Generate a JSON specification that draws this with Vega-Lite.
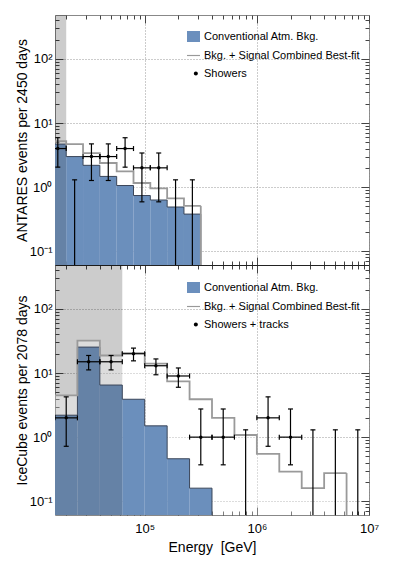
{
  "$schema": "https://vega.github.io/schema/vega-lite/v6.json",
  "padding": {"left": 14, "top": 13, "right": 0, "bottom": 0},
  "spacing": 0,
  "bounds": "flush",
  "config": {
    "font": "Liberation Sans",
    "view": {"stroke": "#888888", "strokeWidth": 1},
    "scale": {"continuousPadding": 0},
    "axis": {"labelFont": "Liberation Sans", "titleFont": "Liberation Sans", "labelColor": "black", "titleColor": "black", "titleFontWeight": "normal", "labelOverlap": false, "labelFlush": false, "tickColor": "#444444"},
    "legend": {"labelFont": "Liberation Sans", "labelFontSize": 11, "labelColor": "black", "padding": 0, "symbolSize": 169, "labelOffset": 3, "rowPadding": 5}
  },
  "resolve": {"scale": {"color": "independent", "shape": "independent"}, "legend": {"color": "independent", "shape": "independent"}},
  "vconcat": [
    {
      "width": 314,
      "height": 250,
      "data": {"values": [
        {"lo": 14125, "hi": 19953, "c": 16788, "bkg": 4.7, "comb": 5.2, "n": 4, "elo": 2.05, "ehi": 5.9},
        {"lo": 19953, "hi": 28184, "c": 23714, "bkg": 3.0, "comb": 4.7, "n": 0, "elo": null, "ehi": 1.3},
        {"lo": 28184, "hi": 39811, "c": 33497, "bkg": 2.19, "comb": 3.4, "n": 3, "elo": 1.27, "ehi": 4.73},
        {"lo": 39811, "hi": 56234, "c": 47315, "bkg": 1.47, "comb": 2.38, "n": 3, "elo": 1.27, "ehi": 4.73},
        {"lo": 56234, "hi": 79433, "c": 66834, "bkg": 1.06, "comb": 1.76, "n": 4, "elo": 2.05, "ehi": 5.9},
        {"lo": 79433, "hi": 112202, "c": 94406, "bkg": 0.74, "comb": 1.16, "n": 2, "elo": 0.59, "ehi": 3.41},
        {"lo": 112202, "hi": 158489, "c": 133352, "bkg": 0.63, "comb": 0.96, "n": 2, "elo": 0.59, "ehi": 3.41},
        {"lo": 158489, "hi": 223872, "c": 188365, "bkg": 0.49, "comb": 0.67, "n": 0, "elo": null, "ehi": 1.3},
        {"lo": 223872, "hi": 316228, "c": 266073, "bkg": 0.38, "comb": 0.51, "n": 0, "elo": null, "ehi": 1.3}
      ]},
      "resolve": {"axis": {"x": "independent", "y": "independent"}},
      "layer": [
        {
          "transform": [{"filter": "isValid(datum.bkg)"}],
          "mark": {"type": "rect", "fill": "#295d9f", "clip": true},
          "encoding": {
            "x": {"field": "lo", "type": "quantitative", "scale": {"type": "log", "domain": [15849, 10000000], "padding": 0},
              "axis": {"orient": "bottom", "values": [20000,30000,40000,50000,60000,70000,80000,90000,100000,200000,300000,400000,500000,600000,700000,800000,900000,1000000,2000000,3000000,4000000,5000000,6000000,7000000,8000000,9000000,10000000],
                "labels": false, "title": null, "domain": true, "domainColor": "#222222", "domainWidth": 1.2,
                "tickSize": {"condition": {"test": "datum.value==100000||datum.value==1000000||datum.value==10000000", "value": -8}, "value": -4},
                "grid": true, "gridDash": [1, 2], "gridColor": "#999999",
                "gridOpacity": {"condition": {"test": "datum.value==100000||datum.value==1000000||datum.value==10000000", "value": 1}, "value": 0}}},
            "x2": {"field": "hi"},
            "y": {"field": "bkg", "type": "quantitative", "scale": {"type": "log", "domain": [0.061, 485], "padding": 0},
              "axis": {"orient": "left", "values": [0.07,0.08,0.09,0.1,0.2,0.3,0.4,0.5,0.6,0.7,0.8,0.9,1,2,3,4,5,6,7,8,9,10,20,30,40,50,60,70,80,90,100,200,300,400],
                "labelExpr": "datum.value==100?'10²':datum.value==10?'10¹':datum.value==1?'10⁰':datum.value==0.1?'10⁻¹':''",
                "labelFontSize": 13, "labelPadding": 11, "domain": false,
                "title": "ANTARES events per 2450 days", "titleFontSize": 14, "titlePadding": 0,
                "tickSize": {"condition": {"test": "datum.value==0.1||datum.value==1||datum.value==10||datum.value==100", "value": -8}, "value": -4},
                "grid": true, "gridDash": [1, 2], "gridColor": "#999999",
                "gridOpacity": {"condition": {"test": "datum.value==0.1||datum.value==1||datum.value==10||datum.value==100", "value": 1}, "value": 0}}},
            "y2": {"datum": 0.001}
          }
        },
        {
          "data": {"values": [{"lo": 10000, "hi": 19953}]},
          "mark": {"type": "rect", "fill": "black", "opacity": 0.2, "clip": true},
          "encoding": {
            "x": {"field": "lo", "type": "quantitative", "scale": {"type": "log", "domain": [15849, 10000000], "padding": 0},
              "axis": {"orient": "top", "values": [20000,30000,40000,50000,60000,70000,80000,90000,100000,200000,300000,400000,500000,600000,700000,800000,900000,1000000,2000000,3000000,4000000,5000000,6000000,7000000,8000000,9000000,10000000],
                "labels": false, "title": null, "domain": false, "grid": false,
                "tickSize": {"condition": {"test": "datum.value==100000||datum.value==1000000||datum.value==10000000", "value": -8}, "value": -4}}},
            "x2": {"field": "hi"}
          }
        },
        {
          "transform": [{"filter": "isValid(datum.comb)"}],
          "mark": {"type": "rect", "fill": "white", "opacity": 0.31, "clip": true},
          "encoding": {
            "x": {"field": "lo", "type": "quantitative", "scale": {"type": "log", "domain": [15849, 10000000], "padding": 0}, "axis": null},
            "x2": {"field": "hi"},
            "y": {"field": "comb", "type": "quantitative", "scale": {"type": "log", "domain": [0.061, 485], "padding": 0},
              "axis": {"orient": "right", "values": [0.07,0.08,0.09,0.1,0.2,0.3,0.4,0.5,0.6,0.7,0.8,0.9,1,2,3,4,5,6,7,8,9,10,20,30,40,50,60,70,80,90,100,200,300,400],
                "labels": false, "title": null, "domain": false, "grid": false,
                "tickSize": {"condition": {"test": "datum.value==0.1||datum.value==1||datum.value==10||datum.value==100", "value": -8}, "value": -4}}},
            "y2": {"datum": 0.001}
          }
        },
        {
          "transform": [{"filter": "isValid(datum.bkg)"}, {"fold": ["lo", "hi"], "as": ["edge", "ex"]}],
          "mark": {"type": "line", "stroke": "#3b4659", "strokeWidth": 1, "clip": true},
          "encoding": {
            "x": {"field": "ex", "type": "quantitative", "scale": {"type": "log", "domain": [15849, 10000000], "padding": 0}, "axis": null},
            "y": {"field": "bkg", "type": "quantitative", "scale": {"type": "log", "domain": [0.061, 485], "padding": 0}, "axis": null},
            "order": [{"field": "ex", "type": "quantitative"}, {"field": "edge", "type": "nominal"}]
          }
        },
        {
          "transform": [{"filter": "datum.hi==316228"}],
          "mark": {"type": "rule", "stroke": "#3b4659", "strokeWidth": 1, "clip": true},
          "encoding": {
            "x": {"field": "hi", "type": "quantitative", "scale": {"type": "log", "domain": [15849, 10000000], "padding": 0}, "axis": null},
            "y": {"field": "bkg", "type": "quantitative", "scale": {"type": "log", "domain": [0.061, 485], "padding": 0}, "axis": null},
            "y2": {"datum": 0.001}
          }
        },
        {
          "transform": [{"filter": "isValid(datum.comb)"}, {"fold": ["lo", "hi"], "as": ["edge", "ex"]}],
          "mark": {"type": "line", "stroke": "#9a9a9a", "strokeWidth": 1.8, "clip": true},
          "encoding": {
            "x": {"field": "ex", "type": "quantitative", "scale": {"type": "log", "domain": [15849, 10000000], "padding": 0}, "axis": null},
            "y": {"field": "comb", "type": "quantitative", "scale": {"type": "log", "domain": [0.061, 485], "padding": 0}, "axis": null},
            "order": [{"field": "ex", "type": "quantitative"}, {"field": "edge", "type": "nominal"}]
          }
        },
        {
          "transform": [{"filter": "datum.hi==316228"}],
          "mark": {"type": "rule", "stroke": "#9a9a9a", "strokeWidth": 1.8, "clip": true},
          "encoding": {
            "x": {"field": "hi", "type": "quantitative", "scale": {"type": "log", "domain": [15849, 10000000], "padding": 0}, "axis": null},
            "y": {"field": "comb", "type": "quantitative", "scale": {"type": "log", "domain": [0.061, 485], "padding": 0}, "axis": null},
            "y2": {"datum": 0.001}
          }
        },
        {
          "transform": [{"filter": "datum.n>0"}],
          "mark": {"type": "rule", "color": "black", "strokeWidth": 1.2, "clip": true},
          "encoding": {
            "x": {"field": "c", "type": "quantitative", "scale": {"type": "log", "domain": [15849, 10000000], "padding": 0}, "axis": null},
            "y": {"field": "elo", "type": "quantitative", "scale": {"type": "log", "domain": [0.061, 485], "padding": 0}, "axis": null},
            "y2": {"field": "ehi"}
          }
        },
        {
          "transform": [{"filter": "datum.n==0"}],
          "mark": {"type": "rule", "color": "black", "strokeWidth": 1.2, "clip": true},
          "encoding": {
            "x": {"field": "c", "type": "quantitative", "scale": {"type": "log", "domain": [15849, 10000000], "padding": 0}, "axis": null},
            "y": {"field": "ehi", "type": "quantitative", "scale": {"type": "log", "domain": [0.061, 485], "padding": 0}, "axis": null},
            "y2": {"datum": 0.001}
          }
        },
        {
          "transform": [{"filter": "datum.n>0"}],
          "mark": {"type": "rule", "color": "black", "strokeWidth": 1.2, "clip": true},
          "encoding": {
            "x": {"field": "lo", "type": "quantitative", "scale": {"type": "log", "domain": [15849, 10000000], "padding": 0}, "axis": null},
            "x2": {"field": "hi"},
            "y": {"field": "n", "type": "quantitative", "scale": {"type": "log", "domain": [0.061, 485], "padding": 0}, "axis": null}
          }
        },
        {
          "mark": {"type": "tick", "orient": "horizontal", "size": 5, "thickness": 1.2, "color": "black", "opacity": 1, "clip": true},
          "encoding": {
            "x": {"field": "c", "type": "quantitative", "scale": {"type": "log", "domain": [15849, 10000000], "padding": 0}, "axis": null},
            "y": {"field": "ehi", "type": "quantitative", "scale": {"type": "log", "domain": [0.061, 485], "padding": 0}, "axis": null}
          }
        },
        {
          "transform": [{"filter": "datum.n>0"}],
          "mark": {"type": "tick", "orient": "horizontal", "size": 5, "thickness": 1.2, "color": "black", "opacity": 1, "clip": true},
          "encoding": {
            "x": {"field": "c", "type": "quantitative", "scale": {"type": "log", "domain": [15849, 10000000], "padding": 0}, "axis": null},
            "y": {"field": "elo", "type": "quantitative", "scale": {"type": "log", "domain": [0.061, 485], "padding": 0}, "axis": null}
          }
        },
        {
          "transform": [{"filter": "datum.n>0"}],
          "mark": {"type": "tick", "orient": "vertical", "size": 5, "thickness": 1.2, "color": "black", "opacity": 1, "clip": true},
          "encoding": {
            "x": {"field": "lo", "type": "quantitative", "scale": {"type": "log", "domain": [15849, 10000000], "padding": 0}, "axis": null},
            "y": {"field": "n", "type": "quantitative", "scale": {"type": "log", "domain": [0.061, 485], "padding": 0}, "axis": null}
          }
        },
        {
          "transform": [{"filter": "datum.n>0"}],
          "mark": {"type": "tick", "orient": "vertical", "size": 5, "thickness": 1.2, "color": "black", "opacity": 1, "clip": true},
          "encoding": {
            "x": {"field": "hi", "type": "quantitative", "scale": {"type": "log", "domain": [15849, 10000000], "padding": 0}, "axis": null},
            "y": {"field": "n", "type": "quantitative", "scale": {"type": "log", "domain": [0.061, 485], "padding": 0}, "axis": null}
          }
        },
        {
          "transform": [{"filter": "datum.n>0"}],
          "mark": {"type": "point", "filled": true, "size": 12, "color": "black", "opacity": 1, "clip": true},
          "encoding": {
            "x": {"field": "c", "type": "quantitative", "scale": {"type": "log", "domain": [15849, 10000000], "padding": 0}, "axis": null},
            "y": {"field": "n", "type": "quantitative", "scale": {"type": "log", "domain": [0.061, 485], "padding": 0}, "axis": null}
          }
        },
        {
          "data": {"values": [{"s": "Conventional Atm. Bkg."}, {"s": "Bkg. + Signal Combined Best-fit"}, {"s": "Showers"}]},
          "mark": {"type": "point", "filled": true, "opacity": 1, "clip": true},
          "encoding": {
            "x": {"datum": 1, "type": "quantitative", "scale": {"type": "log", "domain": [15849, 10000000], "padding": 0}, "axis": null},
            "y": {"datum": 1, "type": "quantitative", "scale": {"type": "log", "domain": [0.061, 485], "padding": 0}, "axis": null},
            "color": {"field": "s", "type": "nominal",
              "scale": {"domain": ["Conventional Atm. Bkg.", "Bkg. + Signal Combined Best-fit", "Showers"], "range": ["#6b8fbd", "#999999", "black"]},
              "legend": {"title": null, "orient": "none", "legendX": 131, "legendY": 14}},
            "shape": {"field": "s", "type": "nominal",
              "scale": {"domain": ["Conventional Atm. Bkg.", "Bkg. + Signal Combined Best-fit", "Showers"], "range": ["M-1,-0.85H1V0.85H-1Z", "M-1,-0.09H1V0.09H-1Z", "M0.05,0A0.31,0.31,0,1,0,0.67,0A0.31,0.31,0,1,0,0.05,0Z"]},
              "legend": {"title": null, "orient": "none", "legendX": 131, "legendY": 14}}
          }
        }
      ]
    },
    {
      "width": 314,
      "height": 250,
      "data": {"values": [
        {"lo": 15849, "hi": 25119, "c": 19953, "bkg": 2.2, "comb": 4.5, "n": 2, "elo": 0.72, "ehi": 4.25},
        {"lo": 25119, "hi": 39811, "c": 31623, "bkg": 25.4, "comb": 32, "n": 15, "elo": 11.2, "ehi": 18.8},
        {"lo": 39811, "hi": 63096, "c": 50119, "bkg": 6.5, "comb": 18.8, "n": 15, "elo": 11.2, "ehi": 18.8},
        {"lo": 63096, "hi": 100000, "c": 79433, "bkg": 3.9, "comb": 20.4, "n": 20, "elo": 15.5, "ehi": 24.5},
        {"lo": 100000, "hi": 158489, "c": 125893, "bkg": 1.5, "comb": 14, "n": 13, "elo": 9.4, "ehi": 16.6},
        {"lo": 158489, "hi": 251189, "c": 199526, "bkg": 0.46, "comb": 7.4, "n": 9, "elo": 6, "ehi": 12},
        {"lo": 251189, "hi": 398107, "c": 316228, "bkg": 0.16, "comb": 3.9, "n": 1, "elo": 0.37, "ehi": 2.75},
        {"lo": 398107, "hi": 630957, "c": 501187, "bkg": null, "comb": 2.0, "n": 1, "elo": 0.37, "ehi": 2.75},
        {"lo": 630957, "hi": 1000000, "c": 794328, "bkg": null, "comb": 1.08, "n": 0, "elo": null, "ehi": 1.3},
        {"lo": 1000000, "hi": 1584893, "c": 1258925, "bkg": null, "comb": 0.55, "n": 2, "elo": 0.72, "ehi": 4.25},
        {"lo": 1584893, "hi": 2511886, "c": 1995262, "bkg": null, "comb": 0.29, "n": 1, "elo": 0.37, "ehi": 2.75},
        {"lo": 2511886, "hi": 3981072, "c": 3162278, "bkg": null, "comb": 0.16, "n": 0, "elo": null, "ehi": 1.3},
        {"lo": 3981072, "hi": 6309573, "c": 5011872, "bkg": null, "comb": 0.275, "n": 0, "elo": null, "ehi": 1.3},
        {"lo": 6309573, "hi": 10000000, "c": 7943282, "bkg": null, "comb": null, "n": 0, "elo": null, "ehi": 1.3}
      ]},
      "resolve": {"axis": {"x": "independent", "y": "independent"}},
      "layer": [
        {
          "transform": [{"filter": "isValid(datum.bkg)"}],
          "mark": {"type": "rect", "fill": "#295d9f", "clip": true},
          "encoding": {
            "x": {"field": "lo", "type": "quantitative", "scale": {"type": "log", "domain": [15849, 10000000], "padding": 0},
              "axis": {"orient": "bottom", "values": [20000,30000,40000,50000,60000,70000,80000,90000,100000,200000,300000,400000,500000,600000,700000,800000,900000,1000000,2000000,3000000,4000000,5000000,6000000,7000000,8000000,9000000,10000000],
                "labelExpr": "datum.value==100000?'10⁵':datum.value==1000000?'10⁶':datum.value==10000000?'10⁷':''",
                "labelFontSize": 13, "labelPadding": 15, "domain": false,
                "title": "Energy\u00a0 [GeV]", "titleFontSize": 14, "titlePadding": 1,
                "tickSize": {"condition": {"test": "datum.value==100000||datum.value==1000000||datum.value==10000000", "value": -8}, "value": -4},
                "grid": true, "gridDash": [1, 2], "gridColor": "#999999",
                "gridOpacity": {"condition": {"test": "datum.value==100000||datum.value==1000000||datum.value==10000000", "value": 1}, "value": 0}}},
            "x2": {"field": "hi"},
            "y": {"field": "bkg", "type": "quantitative", "scale": {"type": "log", "domain": [0.061, 485], "padding": 0},
              "axis": {"orient": "left", "values": [0.07,0.08,0.09,0.1,0.2,0.3,0.4,0.5,0.6,0.7,0.8,0.9,1,2,3,4,5,6,7,8,9,10,20,30,40,50,60,70,80,90,100,200,300,400],
                "labelExpr": "datum.value==100?'10²':datum.value==10?'10¹':datum.value==1?'10⁰':datum.value==0.1?'10⁻¹':''",
                "labelFontSize": 13, "labelPadding": 11, "domain": false,
                "title": "IceCube events per 2078 days", "titleFontSize": 14, "titlePadding": 0,
                "tickSize": {"condition": {"test": "datum.value==0.1||datum.value==1||datum.value==10||datum.value==100", "value": -8}, "value": -4},
                "grid": true, "gridDash": [1, 2], "gridColor": "#999999",
                "gridOpacity": {"condition": {"test": "datum.value==0.1||datum.value==1||datum.value==10||datum.value==100", "value": 1}, "value": 0}}},
            "y2": {"datum": 0.001}
          }
        },
        {
          "data": {"values": [{"lo": 10000, "hi": 63096}]},
          "mark": {"type": "rect", "fill": "black", "opacity": 0.2, "clip": true},
          "encoding": {
            "x": {"field": "lo", "type": "quantitative", "scale": {"type": "log", "domain": [15849, 10000000], "padding": 0},
              "axis": {"orient": "top", "values": [20000,30000,40000,50000,60000,70000,80000,90000,100000,200000,300000,400000,500000,600000,700000,800000,900000,1000000,2000000,3000000,4000000,5000000,6000000,7000000,8000000,9000000,10000000],
                "labels": false, "title": null, "domain": true, "domainColor": "#222222", "domainWidth": 1.2, "grid": false,
                "tickSize": {"condition": {"test": "datum.value==100000||datum.value==1000000||datum.value==10000000", "value": -8}, "value": -4}}},
            "x2": {"field": "hi"}
          }
        },
        {
          "transform": [{"filter": "isValid(datum.comb)"}],
          "mark": {"type": "rect", "fill": "white", "opacity": 0.31, "clip": true},
          "encoding": {
            "x": {"field": "lo", "type": "quantitative", "scale": {"type": "log", "domain": [15849, 10000000], "padding": 0}, "axis": null},
            "x2": {"field": "hi"},
            "y": {"field": "comb", "type": "quantitative", "scale": {"type": "log", "domain": [0.061, 485], "padding": 0},
              "axis": {"orient": "right", "values": [0.07,0.08,0.09,0.1,0.2,0.3,0.4,0.5,0.6,0.7,0.8,0.9,1,2,3,4,5,6,7,8,9,10,20,30,40,50,60,70,80,90,100,200,300,400],
                "labels": false, "title": null, "domain": false, "grid": false,
                "tickSize": {"condition": {"test": "datum.value==0.1||datum.value==1||datum.value==10||datum.value==100", "value": -8}, "value": -4}}},
            "y2": {"datum": 0.001}
          }
        },
        {
          "transform": [{"filter": "isValid(datum.bkg)"}, {"fold": ["lo", "hi"], "as": ["edge", "ex"]}],
          "mark": {"type": "line", "stroke": "#3b4659", "strokeWidth": 1, "clip": true},
          "encoding": {
            "x": {"field": "ex", "type": "quantitative", "scale": {"type": "log", "domain": [15849, 10000000], "padding": 0}, "axis": null},
            "y": {"field": "bkg", "type": "quantitative", "scale": {"type": "log", "domain": [0.061, 485], "padding": 0}, "axis": null},
            "order": [{"field": "ex", "type": "quantitative"}, {"field": "edge", "type": "nominal"}]
          }
        },
        {
          "transform": [{"filter": "datum.hi==398107"}],
          "mark": {"type": "rule", "stroke": "#3b4659", "strokeWidth": 1, "clip": true},
          "encoding": {
            "x": {"field": "hi", "type": "quantitative", "scale": {"type": "log", "domain": [15849, 10000000], "padding": 0}, "axis": null},
            "y": {"field": "bkg", "type": "quantitative", "scale": {"type": "log", "domain": [0.061, 485], "padding": 0}, "axis": null},
            "y2": {"datum": 0.001}
          }
        },
        {
          "transform": [{"filter": "isValid(datum.comb)"}, {"fold": ["lo", "hi"], "as": ["edge", "ex"]}],
          "mark": {"type": "line", "stroke": "#9a9a9a", "strokeWidth": 1.8, "clip": true},
          "encoding": {
            "x": {"field": "ex", "type": "quantitative", "scale": {"type": "log", "domain": [15849, 10000000], "padding": 0}, "axis": null},
            "y": {"field": "comb", "type": "quantitative", "scale": {"type": "log", "domain": [0.061, 485], "padding": 0}, "axis": null},
            "order": [{"field": "ex", "type": "quantitative"}, {"field": "edge", "type": "nominal"}]
          }
        },
        {
          "transform": [{"filter": "datum.hi==6309573"}],
          "mark": {"type": "rule", "stroke": "#9a9a9a", "strokeWidth": 1.8, "clip": true},
          "encoding": {
            "x": {"field": "hi", "type": "quantitative", "scale": {"type": "log", "domain": [15849, 10000000], "padding": 0}, "axis": null},
            "y": {"field": "comb", "type": "quantitative", "scale": {"type": "log", "domain": [0.061, 485], "padding": 0}, "axis": null},
            "y2": {"datum": 0.001}
          }
        },
        {
          "transform": [{"filter": "datum.n>0"}],
          "mark": {"type": "rule", "color": "black", "strokeWidth": 1.2, "clip": true},
          "encoding": {
            "x": {"field": "c", "type": "quantitative", "scale": {"type": "log", "domain": [15849, 10000000], "padding": 0}, "axis": null},
            "y": {"field": "elo", "type": "quantitative", "scale": {"type": "log", "domain": [0.061, 485], "padding": 0}, "axis": null},
            "y2": {"field": "ehi"}
          }
        },
        {
          "transform": [{"filter": "datum.n==0"}],
          "mark": {"type": "rule", "color": "black", "strokeWidth": 1.2, "clip": true},
          "encoding": {
            "x": {"field": "c", "type": "quantitative", "scale": {"type": "log", "domain": [15849, 10000000], "padding": 0}, "axis": null},
            "y": {"field": "ehi", "type": "quantitative", "scale": {"type": "log", "domain": [0.061, 485], "padding": 0}, "axis": null},
            "y2": {"datum": 0.001}
          }
        },
        {
          "transform": [{"filter": "datum.n>0"}],
          "mark": {"type": "rule", "color": "black", "strokeWidth": 1.2, "clip": true},
          "encoding": {
            "x": {"field": "lo", "type": "quantitative", "scale": {"type": "log", "domain": [15849, 10000000], "padding": 0}, "axis": null},
            "x2": {"field": "hi"},
            "y": {"field": "n", "type": "quantitative", "scale": {"type": "log", "domain": [0.061, 485], "padding": 0}, "axis": null}
          }
        },
        {
          "mark": {"type": "tick", "orient": "horizontal", "size": 5, "thickness": 1.2, "color": "black", "opacity": 1, "clip": true},
          "encoding": {
            "x": {"field": "c", "type": "quantitative", "scale": {"type": "log", "domain": [15849, 10000000], "padding": 0}, "axis": null},
            "y": {"field": "ehi", "type": "quantitative", "scale": {"type": "log", "domain": [0.061, 485], "padding": 0}, "axis": null}
          }
        },
        {
          "transform": [{"filter": "datum.n>0"}],
          "mark": {"type": "tick", "orient": "horizontal", "size": 5, "thickness": 1.2, "color": "black", "opacity": 1, "clip": true},
          "encoding": {
            "x": {"field": "c", "type": "quantitative", "scale": {"type": "log", "domain": [15849, 10000000], "padding": 0}, "axis": null},
            "y": {"field": "elo", "type": "quantitative", "scale": {"type": "log", "domain": [0.061, 485], "padding": 0}, "axis": null}
          }
        },
        {
          "transform": [{"filter": "datum.n>0"}],
          "mark": {"type": "tick", "orient": "vertical", "size": 5, "thickness": 1.2, "color": "black", "opacity": 1, "clip": true},
          "encoding": {
            "x": {"field": "lo", "type": "quantitative", "scale": {"type": "log", "domain": [15849, 10000000], "padding": 0}, "axis": null},
            "y": {"field": "n", "type": "quantitative", "scale": {"type": "log", "domain": [0.061, 485], "padding": 0}, "axis": null}
          }
        },
        {
          "transform": [{"filter": "datum.n>0"}],
          "mark": {"type": "tick", "orient": "vertical", "size": 5, "thickness": 1.2, "color": "black", "opacity": 1, "clip": true},
          "encoding": {
            "x": {"field": "hi", "type": "quantitative", "scale": {"type": "log", "domain": [15849, 10000000], "padding": 0}, "axis": null},
            "y": {"field": "n", "type": "quantitative", "scale": {"type": "log", "domain": [0.061, 485], "padding": 0}, "axis": null}
          }
        },
        {
          "transform": [{"filter": "datum.n>0"}],
          "mark": {"type": "point", "filled": true, "size": 12, "color": "black", "opacity": 1, "clip": true},
          "encoding": {
            "x": {"field": "c", "type": "quantitative", "scale": {"type": "log", "domain": [15849, 10000000], "padding": 0}, "axis": null},
            "y": {"field": "n", "type": "quantitative", "scale": {"type": "log", "domain": [0.061, 485], "padding": 0}, "axis": null}
          }
        },
        {
          "data": {"values": [{"s": "Conventional Atm. Bkg."}, {"s": "Bkg. + Signal Combined Best-fit"}, {"s": "Showers + tracks"}]},
          "mark": {"type": "point", "filled": true, "opacity": 1, "clip": true},
          "encoding": {
            "x": {"datum": 1, "type": "quantitative", "scale": {"type": "log", "domain": [15849, 10000000], "padding": 0}, "axis": null},
            "y": {"datum": 1, "type": "quantitative", "scale": {"type": "log", "domain": [0.061, 485], "padding": 0}, "axis": null},
            "color": {"field": "s", "type": "nominal",
              "scale": {"domain": ["Conventional Atm. Bkg.", "Bkg. + Signal Combined Best-fit", "Showers + tracks"], "range": ["#6b8fbd", "#999999", "black"]},
              "legend": {"title": null, "orient": "none", "legendX": 131, "legendY": 15}},
            "shape": {"field": "s", "type": "nominal",
              "scale": {"domain": ["Conventional Atm. Bkg.", "Bkg. + Signal Combined Best-fit", "Showers + tracks"], "range": ["M-1,-0.85H1V0.85H-1Z", "M-1,-0.09H1V0.09H-1Z", "M0.05,0A0.31,0.31,0,1,0,0.67,0A0.31,0.31,0,1,0,0.05,0Z"]},
              "legend": {"title": null, "orient": "none", "legendX": 131, "legendY": 15}}
          }
        }
      ]
    }
  ]
}
